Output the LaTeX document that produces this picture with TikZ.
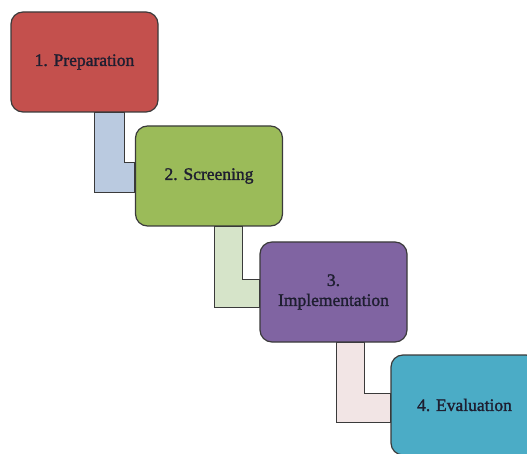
\documentclass[tikz,border=0pt]{standalone}
\usepackage{fontspec}
\setmainfont{Liberation Serif}[FakeBold=1.5]
\usetikzlibrary{positioning,calc,backgrounds}
\definecolor{stepRed}{HTML}{C4504D}
\definecolor{stepGreen}{HTML}{9BBB59}
\definecolor{stepPurple}{HTML}{8064A2}
\definecolor{stepTeal}{HTML}{4BACC6}
\definecolor{linkBlue}{HTML}{BACAE0}
\definecolor{linkGreen}{HTML}{D6E4C9}
\definecolor{linkPink}{HTML}{F2E5E5}
\definecolor{ink}{HTML}{1E1E30}
\definecolor{rim}{HTML}{3A3A3A}

\begin{document}
\begin{tikzpicture}[x=1pt,y=-1pt,font=\fontsize{17.5}{20}\selectfont,
  stepbox/.style={draw=rim,line width=1.2pt,rounded corners=12pt,minimum width=147pt,minimum height=100pt,text=ink,align=center,inner sep=0pt},
  elbow/.style={draw=rim,line width=1pt}]
\useasboundingbox (0,0) rectangle (527,454);
% the four steps, going down to the right
\node[stepbox,fill=stepRed] (prep) at (84.5,62) {1. Preparation};
\node[stepbox,fill=stepGreen] (screen) at (209,176) {2. Screening};
\node[stepbox,fill=stepPurple] (impl) at (333.5,292) {3.\\Implementation};
\node[stepbox,fill=stepTeal] (eval) at (464.5,405) {4. Evaluation};
% elbow links behind the boxes
\begin{scope}[on background layer]
\filldraw[elbow,fill=linkBlue] ([xshift=84pt]prep.south west) |- ([yshift=-17pt]screen.west) -- ([yshift=13pt]screen.west) -| ([xshift=114pt]prep.south west) -- cycle;
\filldraw[elbow,fill=linkGreen] ([xshift=80pt]screen.south west) |- ([yshift=-15pt]impl.west) -- ([yshift=13pt]impl.west) -| ([xshift=108pt]screen.south west) -- cycle;
\filldraw[elbow,fill=linkPink] ([xshift=77pt]impl.south west) |- ([yshift=-17pt]eval.west) -- ([yshift=12pt]eval.west) -| ([xshift=105pt]impl.south west) -- cycle;
\end{scope}
\end{tikzpicture}
\end{document}
